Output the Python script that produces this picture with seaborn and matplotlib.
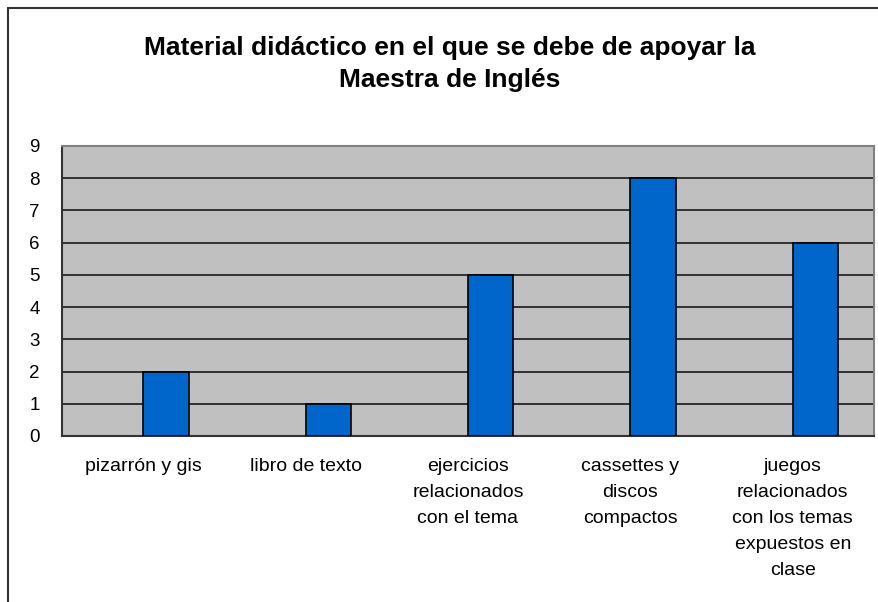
import matplotlib
matplotlib.use('Agg')
import matplotlib.pyplot as plt
import seaborn as sns
import numpy as np
from matplotlib.lines import Line2D

# Data
categories = ['pizarrón y gis', 'libro de texto',
              'ejercicios\nrelacionados\ncon el tema',
              'cassettes y\ndiscos\ncompactos',
              'juegos\nrelacionados\ncon los temas\nexpuestos en\nclase']
values = [2, 1, 5, 8, 6]
y_ticks = list(range(0, 10))

sns.set_style('white')
plt.rcParams['font.family'] = ['Liberation Sans', 'DejaVu Sans']
plt.rcParams['text.color'] = 'black'
plt.rcParams['xtick.color'] = 'black'
plt.rcParams['ytick.color'] = 'black'

fig = plt.figure(figsize=(8.79, 6.02), dpi=100)
ax = fig.add_axes([62 / 879, 1 - 436 / 602, (874 - 62) / 879, (436 - 146) / 602])
ax.set_facecolor('#C0C0C0')

sns.barplot(x=categories, y=values, color='#0066CC', edgecolor='black',
            linewidth=1.2, width=0.28, saturation=1, ax=ax, zorder=3)

# Excel-style placement: bar starts at the category centre
for p in ax.patches:
    p.set_x(p.get_x() + p.get_width() / 2)

ax.set_ylim(0, 9)
ax.set_xlim(-0.5, len(categories) - 0.5)
ax.set_yticks(y_ticks)
ax.set_yticklabels([str(t) for t in y_ticks], fontsize=13.5)
for t in y_ticks[1:-1]:
    ax.axhline(t, color='#1a1a1a', linewidth=1.2, zorder=1)

# category labels centered, tick marks at boundaries
ax.set_xticks(np.arange(len(categories)))
ax.set_xticklabels(categories, fontsize=14, linespacing=1.68, va='top', ha='center')
ax.tick_params(axis='x', which='major', length=0, pad=16)
ax.set_xticks(np.arange(len(categories) + 1) - 0.5, minor=True)
ax.tick_params(axis='x', which='minor', length=6, width=1, color='#333333', direction='out')
ax.tick_params(axis='y', length=8, width=1, color='#333333', direction='out', pad=8)

for side in ['left', 'bottom']:
    ax.spines[side].set_color('#333333')
    ax.spines[side].set_linewidth(1.5)
for side in ['top', 'right']:
    ax.spines[side].set_color('#808080')
    ax.spines[side].set_linewidth(1.5)
ax.set_xlabel('')
ax.set_ylabel('')

# chart border (left and top visible)
fig.add_artist(Line2D([8 / 879, 8 / 879], [0, 1 - 8 / 602], color='#333333', linewidth=1.5))
fig.add_artist(Line2D([8 / 879, 1], [1 - 8 / 602, 1 - 8 / 602], color='#333333', linewidth=1.5))

fig.text(450 / 879, 1 - 64 / 602,
         'Material didáctico en el que se debe de apoyar la\nMaestra de Inglés',
         ha='center', va='center', fontsize=19, fontweight='bold', linespacing=1.42)

fig.savefig('out.png', dpi=100, facecolor='white')
